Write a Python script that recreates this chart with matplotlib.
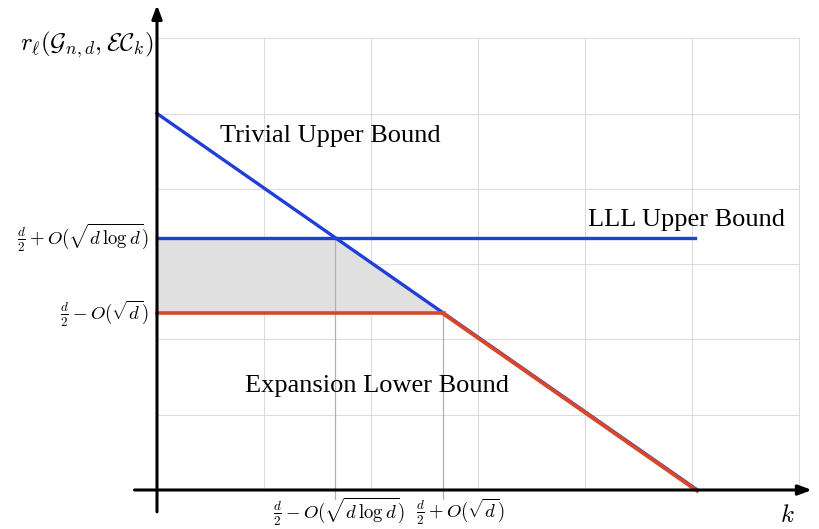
import numpy as np
import matplotlib
matplotlib.use('Agg')
import matplotlib.pyplot as plt
import matplotlib.transforms as mtransforms

plt.rcParams['font.family'] = ['Liberation Serif', 'DejaVu Serif']
plt.rcParams['mathtext.fontset'] = 'cm'

# bound curves (grid units)
trivial_x = [0.0, 5.05]
trivial_y = [5.0, 0.0]
lll_x = [0.0, 5.03]
lll_y = [3.35, 3.35]
expansion_x = [0.0, 2.68, 5.05]
expansion_y = [2.35, 2.35, 0.0]

curve_names = ['Trivial Upper Bound', 'LLL Upper Bound', 'Expansion Lower Bound']
y_tick_labels = [r'$\frac{d}{2}+O(\sqrt{d\,\log d})$', r'$\frac{d}{2}-O(\sqrt{d})$']
x_tick_labels = [r'$\frac{d}{2}-O(\sqrt{d\,\log d})$', r'$\frac{d}{2}+O(\sqrt{d})$']
y_label = r'$r_\ell(\mathcal{G}_{n,d},\mathcal{EC}_k)$'
x_label = r'$k$'

blue = '#1f3fd8'
red = '#d9472b'

fig = plt.figure(figsize=(8.19, 5.29), dpi=100)
ax = fig.add_axes([0, 0, 1, 1])
ax.set_xlim(-157 / 107, (819 - 157) / 107)
ax.set_ylim(-39 / 75.3, (529 - 39) / 75.3)
ax.axis('off')

# grid
for g in range(1, 7):
    ax.plot([g, g], [0, 6], color='#dcdcdc', lw=0.8, zorder=1)
    ax.plot([0, 6], [g, g], color='#dcdcdc', lw=0.8, zorder=1)

# intersections of the trivial bound with the other two
x_hi = np.interp(lll_y[0], trivial_y[::-1], trivial_x[::-1])
x_lo = np.interp(expansion_y[0], trivial_y[::-1], trivial_x[::-1])

# shaded gap
fx = np.linspace(0, x_lo, 50)
fy_top = np.minimum(lll_y[0], np.interp(fx, trivial_x, trivial_y))
ax.fill_between(fx, expansion_y[0], fy_top, color='#e0e0e0', zorder=2)

# drop lines
ax.plot([x_hi, x_hi], [-0.12, lll_y[0]], color='#b0b0b0', lw=0.9, zorder=2)
ax.plot([x_lo, x_lo], [-0.12, expansion_y[0]], color='#b0b0b0', lw=0.9, zorder=2)

ax.plot(trivial_x, trivial_y, color=blue, lw=2.4, zorder=3)
ax.plot(lll_x, lll_y, color=blue, lw=2.4, zorder=3)
# red bound sits slightly below the blue one so the blue edge shows
shift = mtransforms.offset_copy(ax.transData, fig=fig, x=-0.3, y=-0.45, units='points')
ax.plot(expansion_x[1:], expansion_y[1:], color=red, lw=2.8, zorder=4, transform=shift)
ax.plot(expansion_x[:2], expansion_y[:2], color=red, lw=2.6, zorder=4)

# axes arrows
arrow = dict(arrowstyle='-|>,head_length=0.8,head_width=0.3', color='black', lw=2.2,
             shrinkA=0, shrinkB=0)
ax.annotate('', xy=(6.12, 0), xytext=(-0.21, 0), arrowprops=arrow, zorder=5)
ax.annotate('', xy=(0, 6.44), xytext=(0, -0.29), arrowprops=arrow, zorder=5)

# curve labels
ax.text(0.59, 4.70, curve_names[0], fontsize=19, ha='left', va='center')
ax.text(4.03, 3.59, curve_names[1], fontsize=19, ha='left', va='center')
ax.text(0.82, 1.38, curve_names[2], fontsize=19, ha='left', va='center')

# tick labels
ax.text(-0.08, lll_y[0], y_tick_labels[0], fontsize=13.5, ha='right', va='center')
ax.text(-0.08, expansion_y[0], y_tick_labels[1], fontsize=13.5, ha='right', va='center')
ax.text(x_hi + 0.03, -0.28, x_tick_labels[0], fontsize=13.5, ha='center', va='center')
ax.text(x_lo - 0.26, -0.28, x_tick_labels[1], fontsize=13.5, ha='left', va='center')

ax.text(-0.03, 5.91, y_label, fontsize=18, ha='right', va='center')
ax.text(5.89, -0.35, x_label, fontsize=18, ha='center', va='center')

plt.savefig('out.png', dpi=100)
